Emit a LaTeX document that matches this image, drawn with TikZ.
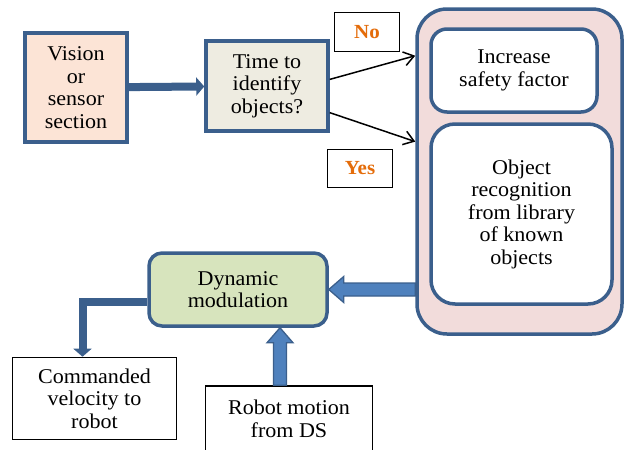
\documentclass[tikz,border=0pt]{standalone}
\usepackage{fontspec}
\setmainfont{Liberation Serif}[FakeStretch=1.05]
\usetikzlibrary{arrows.meta,calc}

\definecolor{edgeblue}{HTML}{3B5F8C}
\definecolor{arrowblue}{HTML}{4F81BD}
\definecolor{peach}{HTML}{FCE4D6}
\definecolor{stone}{HTML}{EEECE1}
\definecolor{rose}{HTML}{F2DCDB}
\definecolor{sage}{HTML}{D7E4BD}
\definecolor{answerorange}{HTML}{E46C0A}

\tikzset{
  boxtext/.style={align=center, inner sep=0pt, font=\rmfamily\fontsize{21}{22.5}\selectfont},
  bluebox/.style={boxtext, draw=edgeblue, line width=3.5pt},
  plainbox/.style={boxtext, draw=black, line width=1.6pt, fill=white},
  answer/.style={draw=black, line width=1.6pt, inner sep=0pt, text=answerorange,
    font=\rmfamily\fontsize{20}{22}\selectfont\bfseries},
  decide/.style={black, line width=1.5pt, -{Straight Barb[length=10pt,width=14pt]}},
  feed/.style={edgeblue, line width=8pt, -{Triangle[length=8pt,width=18pt]}},
  blockarrow/.style={draw=edgeblue, fill=arrowblue, line width=1.3pt, line join=miter,
    to path={
      ($(\tikztostart)!6.5pt!90:(\tikztotarget)$)
      -- ($(\tikztotarget)!15pt!(\tikztostart)!6.5pt!-90:(\tikztostart)$)
      -- ($(\tikztotarget)!15pt!(\tikztostart)!13pt!-90:(\tikztostart)$)
      -- (\tikztotarget)
      -- ($(\tikztotarget)!15pt!(\tikztostart)!13pt!90:(\tikztostart)$)
      -- ($(\tikztotarget)!15pt!(\tikztostart)!6.5pt!90:(\tikztostart)$)
      -- ($(\tikztostart)!6.5pt!-90:(\tikztotarget)$) -- cycle}}
}

\begin{document}
\begin{tikzpicture}[x=1pt,y=-1pt]
\useasboundingbox (0,0) rectangle (625,450);

\node (vision) at (76,87.5) [bluebox,fill=peach,minimum width=102pt,minimum height=109pt]{Vision\\or\\sensor\\section};
\node (ident) at (267,86) [bluebox,fill=stone,minimum width=122pt,minimum height=90pt]{Time to\\identify\\objects?};

\node (nobox) at (367,32) [answer,minimum width=65pt,minimum height=39pt]{No};
\node (yesbox) at (360,168.5) [answer,minimum width=65pt,minimum height=38pt]{Yes};

% right hand group
\node (ctrl) at (519.5,171.5) [draw=edgeblue,line width=3.5pt,fill=rose,rounded corners=30pt,minimum width=205pt,minimum height=325pt]{};
\node (safety) at (514,70.5) [bluebox,fill=white,rounded corners=16pt,minimum width=166pt,minimum height=83pt]{Increase\\safety factor};
\node (recog) at (521.5,214) [bluebox,fill=white,rounded corners=24pt,minimum width=181pt,minimum height=180pt]{Object\\recognition\\from library\\of known\\objects};

\node (dynmod) at (238,289.5) [bluebox,fill=sage,rounded corners=13pt,minimum width=178pt,minimum height=73pt]{Dynamic\\modulation};
\node (cmdvel) at (94.5,398.5) [plainbox,minimum width=164pt,minimum height=82pt]{Commanded\\velocity to\\robot};
\node (motion) at (289,419) [plainbox,minimum width=167pt,minimum height=66pt]{Robot motion\\from DS};

\draw[feed] (vision) -- (ident);
\draw[decide] (ident.6) -- (ctrl.132);
\draw[decide] (ident.-23) -- (ctrl.164);

\draw[blockarrow] (ctrl.west |- dynmod.east) to (dynmod.east);
\draw[blockarrow] ([xshift=-9pt]motion.north) to ([xshift=-9pt]motion.north |- dynmod.south);
\draw[feed] ([yshift=-12pt]dynmod.west) -| ([xshift=-12pt]cmdvel.north);

\end{tikzpicture}
\end{document}
